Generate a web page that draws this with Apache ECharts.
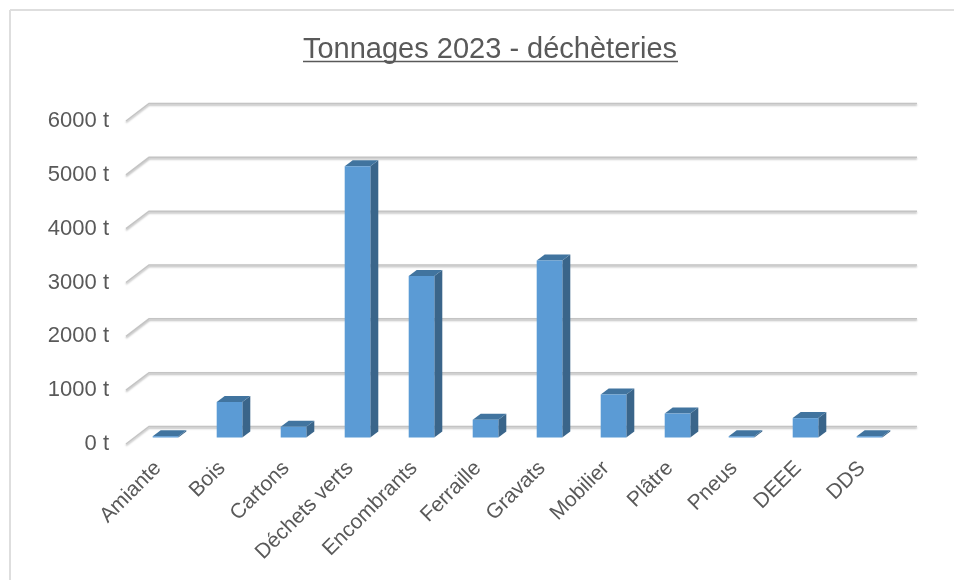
<!DOCTYPE html>
<html>
<head>
<meta charset="utf-8">
<style>
  html, body { margin: 0; padding: 0; background: #fff; }
  #chart { width: 954px; height: 580px; }
</style>
<script src="https://cdn.jsdelivr.net/npm/echarts@6/dist/echarts.min.js"></script>
</head>
<body>
<div id="chart"></div>
<script>
var categories = ['Amiante', 'Bois', 'Cartons', 'Déchets verts', 'Encombrants', 'Ferraille', 'Gravats', 'Mobilier', 'Plâtre', 'Pneus', 'DEEE', 'DDS']
var tonnages = [25, 660, 200, 5040, 3000, 330, 3290, 800, 445, 25, 360, 25]
var ticks = [0, 1000, 2000, 3000, 4000, 5000, 6000]

var textColor = '#595959'

// mur du fond + trait oblique pour chaque graduation
function renderWall (params, api) {
  var p = api.coord([0, api.value(0)])
  var left = params.coordSys.x
  var right = left + params.coordSys.width
  return {
    type: 'polyline',
    shape: { points: [[left, p[1]], [left + 23, p[1] - 17.5], [right + 23, p[1] - 17.5]] },
    style: {
      fill: null,
      stroke: '#c4c4c4',
      lineWidth: 1.5,
      shadowColor: 'rgba(0,0,0,0.3)',
      shadowBlur: 2,
      shadowOffsetY: 1.5
    }
  }
}

// barre 3D : face, dessus, côté
function renderBar (params, api) {
  var base = api.coord([api.value(0), 0])
  var top = api.coord([api.value(0), api.value(1)])
  var w = api.size([1, 0])[0] * 0.4
  var x0 = base[0] + 7.5 - w / 2
  var x1 = x0 + w
  var y0 = base[1] - 6.5
  var y1 = top[1] - 6.5
  var dx = 8
  var dy = 6
  return {
    type: 'group',
    children: [
      { type: 'polygon', shape: { points: [[x1, y0], [x1 + dx, y0 - dy], [x1 + dx, y1 - dy], [x1, y1]] }, style: { fill: '#3a658a' } },
      { type: 'polygon', shape: { points: [[x0, y1], [x0 + dx, y1 - dy], [x1 + dx, y1 - dy], [x1, y1]] }, style: { fill: '#41749f' } },
      { type: 'rect', shape: { x: x0, y: y1, width: w, height: y0 - y1 }, style: { fill: '#5b9bd5' } }
    ]
  }
}

var chart = echarts.init(document.getElementById('chart'))
chart.setOption({
  animation: false,
  title: {
    text: 'Tonnages 2023 - déchèteries',
    left: 485,
    top: 30,
    textAlign: 'center',
    textStyle: {
      color: textColor,
      fontFamily: 'Liberation Sans',
      fontSize: 29,
      fontWeight: 'normal'
    }
  },
  graphic: [
    { type: 'line', shape: { x1: 10, y1: 10, x2: 954, y2: 10 }, style: { stroke: '#dedede', lineWidth: 2 }, silent: true },
    { type: 'line', shape: { x1: 10, y1: 10, x2: 10, y2: 580 }, style: { stroke: '#dedede', lineWidth: 2 }, silent: true },
    { type: 'line', shape: { x1: 303, y1: 61.5, x2: 678, y2: 61.5 }, style: { stroke: textColor, lineWidth: 1.5 }, silent: true }
  ],
  grid: { left: 126, right: 60, top: 121, bottom: 136 },
  xAxis: {
    type: 'category',
    data: categories,
    axisLine: { show: false },
    axisTick: { show: false },
    axisLabel: {
      rotate: 45,
      interval: 0,
      margin: 21,
      color: textColor,
      fontFamily: 'Liberation Sans',
      fontSize: 21
    }
  },
  yAxis: {
    type: 'value',
    min: 0,
    max: 6000,
    interval: 1000,
    splitLine: { show: false },
    axisLine: { show: false },
    axisTick: { show: false },
    axisLabel: {
      formatter: function (v) { return v + ' t' },
      margin: 17,
      color: textColor,
      fontFamily: 'Liberation Sans',
      fontSize: 22
    }
  },
  series: [
    {
      type: 'custom',
      renderItem: renderWall,
      data: ticks.map(function (t) { return [t] }),
      encode: { y: 0 },
      silent: true,
      z: 1
    },
    {
      type: 'custom',
      renderItem: renderBar,
      data: tonnages.map(function (v, i) { return [i, v] }),
      encode: { x: 0, y: 1 },
      z: 2
    }
  ]
})
</script>
</body>
</html>
